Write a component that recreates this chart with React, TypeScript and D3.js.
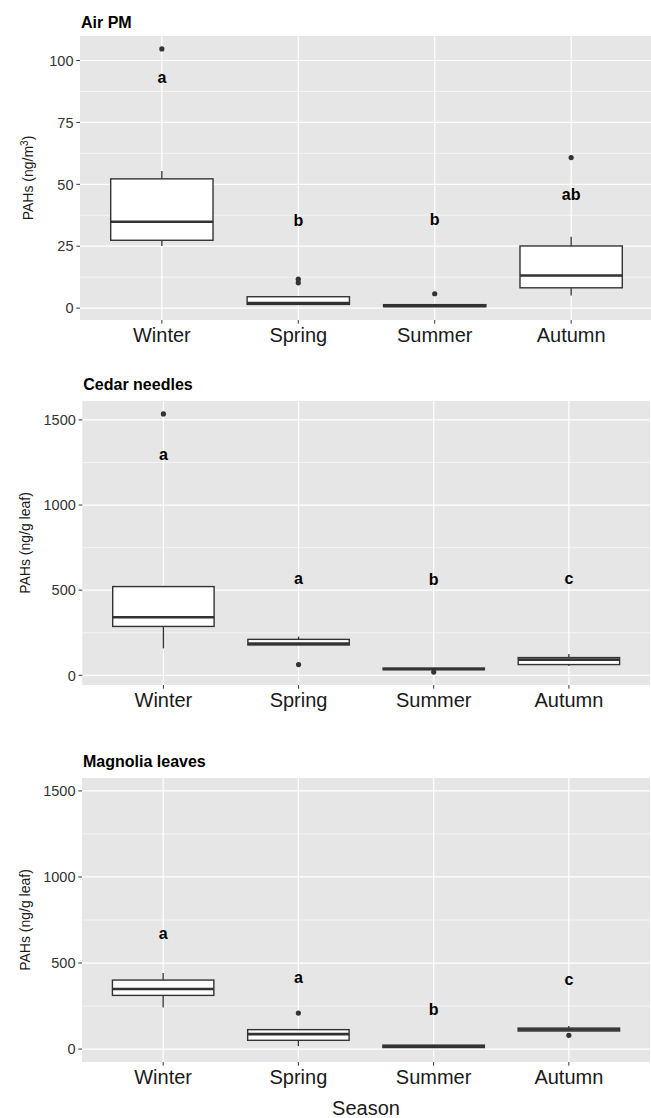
import React from 'react';
import * as d3 from 'd3';

const seasons = ['Winter', 'Spring', 'Summer', 'Autumn'];

// Air PM (ng/m3)
const airLow = [25.1, 1.3, 0.4, 5.1];
const airQ1 = [27.4, 1.5, 0.6, 8.2];
const airMedian = [34.9, 2.0, 0.9, 13.2];
const airQ3 = [52.2, 4.6, 1.4, 25.1];
const airHigh = [55.4, 4.6, 1.5, 28.8];
const airOutliers = [[104.7], [11.7, 10.2], [5.8], [60.8]];
const airLetters = ['a', 'b', 'b', 'ab'];
const airLetterY = [93.4, 35.3, 35.9, 46.1];
const airTicks = [0, 25, 50, 75, 100];

// Cedar needles (ng/g leaf)
const cedarLow = [158, 178, 30, 55];
const cedarQ1 = [287, 178, 33, 63];
const cedarMedian = [341, 186, 37, 92];
const cedarQ3 = [521, 211, 42, 104];
const cedarHigh = [525, 227, 44, 125];
const cedarOutliers = [[1535], [63], [19], []];
const cedarLetters = ['a', 'a', 'b', 'c'];
const cedarLetterY = [1299, 568, 562, 568];

// Magnolia leaves (ng/g leaf)
const magLow = [241, 17, 8, 108];
const magQ1 = [312, 51, 9, 105];
const magMedian = [349, 87, 16, 114];
const magQ3 = [401, 113, 23, 122];
const magHigh = [442, 113, 25, 134];
const magOutliers = [[], [209], [], [80]];
const magLetters = ['a', 'a', 'b', 'c'];
const magLetterY = [674, 419, 229, 405];

const leafTicks = [0, 500, 1000, 1500];

const FONT = '"Liberation Sans", Arial, Helvetica, sans-serif';
const PANEL_H = 284;

type PanelProps = {
  title: string;
  yLabel: React.ReactNode;
  top: number;
  left: number;
  right: number;
  titleY: number;
  yLabX: number;
  domain: [number, number];
  ticks: number[];
  low: number[];
  q1: number[];
  median: number[];
  q3: number[];
  high: number[];
  outliers: number[][];
  letters: string[];
  letterY: number[];
};

const Panel = (p: PanelProps) => {
  // discrete x axis, ggplot style: 0.6 units of expansion on each side
  const x = d3
    .scalePoint<string>()
    .domain(seasons)
    .range([p.left, p.right])
    .padding(0.6);
  const step = x.step();
  const bw = step * 0.75;

  const y = d3.scaleLinear().domain(p.domain).range([p.top + PANEL_H, p.top]);
  const half = (p.ticks[1] - p.ticks[0]) / 2;
  const minor = p.ticks.map((t) => t + half).filter((t) => t < p.domain[1]);
  const bottom = p.top + PANEL_H;
  const width = p.right - p.left;

  return (
    <g>
      <text x={p.left + 1} y={p.titleY} fontSize={16} fontWeight="bold" fill="#000">
        {p.title}
      </text>
      <rect x={p.left} y={p.top} width={width} height={PANEL_H} fill="#E6E6E6" />
      {minor.map((t) => (
        <line key={'mi' + t} x1={p.left} x2={p.right} y1={y(t)} y2={y(t)} stroke="#fff" strokeWidth={0.6} />
      ))}
      {p.ticks.map((t) => (
        <line key={'ma' + t} x1={p.left} x2={p.right} y1={y(t)} y2={y(t)} stroke="#fff" strokeWidth={1.2} />
      ))}
      {seasons.map((s) => (
        <line key={'v' + s} x1={x(s)} x2={x(s)} y1={p.top} y2={bottom} stroke="#fff" strokeWidth={1.2} />
      ))}
      {/* boxes */}
      {seasons.map((s, i) => {
        const cx = x(s)!;
        return (
          <g key={'b' + s} stroke="#333" fill="#fff">
            <line x1={cx} x2={cx} y1={y(p.high[i])} y2={y(p.q3[i])} strokeWidth={1.3} />
            <line x1={cx} x2={cx} y1={y(p.q1[i])} y2={y(p.low[i])} strokeWidth={1.3} />
            <rect
              x={cx - bw / 2}
              y={y(p.q3[i])}
              width={bw}
              height={Math.max(0, y(p.q1[i]) - y(p.q3[i]))}
              strokeWidth={1.4}
            />
            <line x1={cx - bw / 2} x2={cx + bw / 2} y1={y(p.median[i])} y2={y(p.median[i])} strokeWidth={2.6} />
            {p.outliers[i].map((o, j) => (
              <circle key={j} cx={cx} cy={y(o)} r={2.6} fill="#333" stroke="none" />
            ))}
          </g>
        );
      })}
      {seasons.map((s, i) => (
        <text
          key={'l' + s}
          x={x(s)}
          y={y(p.letterY[i])}
          dy="0.36em"
          textAnchor="middle"
          fontSize={16}
          fontWeight="bold"
          fill="#000"
        >
          {p.letters[i]}
        </text>
      ))}
      {/* y axis */}
      {p.ticks.map((t) => (
        <g key={'yt' + t}>
          <line x1={p.left - 3.7} x2={p.left} y1={y(t)} y2={y(t)} stroke="#333" strokeWidth={1} />
          <text x={p.left - 6.5} y={y(t)} dy="0.36em" textAnchor="end" fontSize={14.5} fill="#333">
            {t}
          </text>
        </g>
      ))}
      <text
        transform={`translate(${p.yLabX},${p.top + PANEL_H / 2}) rotate(-90)`}
        textAnchor="middle"
        fontSize={14}
        fill="#1a1a1a"
      >
        {p.yLabel}
      </text>
      {/* x axis */}
      {seasons.map((s) => (
        <g key={'xt' + s}>
          <line x1={x(s)} x2={x(s)} y1={bottom} y2={bottom + 3.7} stroke="#333" strokeWidth={1} />
          <text x={x(s)} y={bottom + 21.7} textAnchor="middle" fontSize={20} fill="#1a1a1a">
            {s}
          </text>
        </g>
      ))}
    </g>
  );
};

const App = () => {
  const leafLabel = 'PAHs (ng/g leaf)';
  return (
    <div style={{ position: 'absolute', left: 0, top: 0 }}>
      <svg width={651} height={1118} style={{ display: 'block', background: '#fff' }} fontFamily={FONT}>
        <Panel
          title="Air PM"
          yLabel={
            <>
              PAHs (ng/m
              <tspan baselineShift="super" fontSize={10}>
                3
              </tspan>
              )
            </>
          }
          top={36}
          left={80}
          right={653}
          titleY={27.5}
          yLabX={33}
          domain={[-4.8, 109.9]}
          ticks={airTicks}
          low={airLow}
          q1={airQ1}
          median={airMedian}
          q3={airQ3}
          high={airHigh}
          outliers={airOutliers}
          letters={airLetters}
          letterY={airLetterY}
        />
        <Panel
          title="Cedar needles"
          yLabel={leafLabel}
          top={401}
          left={82.3}
          right={650}
          titleY={390}
          yLabX={29.5}
          domain={[-57, 1611]}
          ticks={leafTicks}
          low={cedarLow}
          q1={cedarQ1}
          median={cedarMedian}
          q3={cedarQ3}
          high={cedarHigh}
          outliers={cedarOutliers}
          letters={cedarLetters}
          letterY={cedarLetterY}
        />
        <Panel
          title="Magnolia leaves"
          yLabel={leafLabel}
          top={778}
          left={82}
          right={650}
          titleY={767}
          yLabX={29.5}
          domain={[-75, 1575]}
          ticks={leafTicks}
          low={magLow}
          q1={magQ1}
          median={magMedian}
          q3={magQ3}
          high={magHigh}
          outliers={magOutliers}
          letters={magLetters}
          letterY={magLetterY}
        />
        <text x={366} y={1115} textAnchor="middle" fontSize={20} fill="#1a1a1a">
          Season
        </text>
      </svg>
    </div>
  );
};

export default App;
